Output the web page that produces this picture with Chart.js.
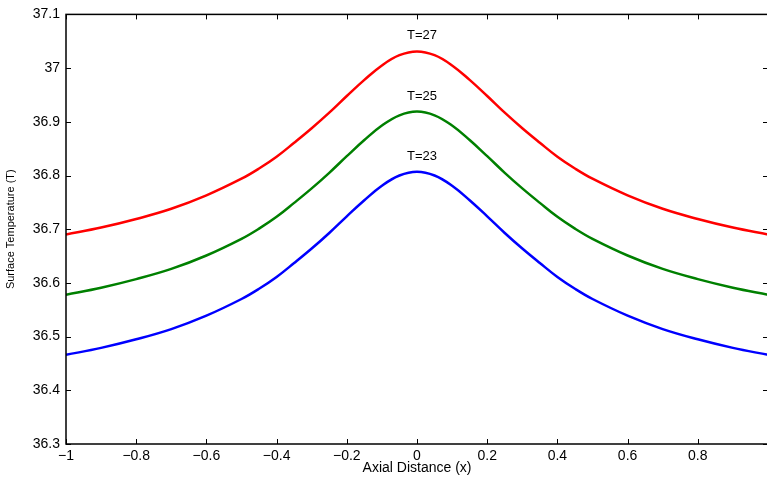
<!DOCTYPE html>
<html>
<head>
<meta charset="UTF-8">
<title>Surface Temperature</title>
<script src="https://cdn.jsdelivr.net/npm/chart.js"></script>
<style>
  html, body { margin: 0; padding: 0; overflow: hidden; background: #fff; }
  #wrap { width: 768px; height: 479px; }
</style>
</head>
<body>
<div id="wrap"><canvas id="tempChart"></canvas></div>
<script>
// values
const xValues = [-1, -0.9, -0.8, -0.7, -0.6, -0.5, -0.45, -0.4, -0.35, -0.3, -0.25, -0.2, -0.15, -0.1, -0.05, 0,
                 0.05, 0.1, 0.15, 0.2, 0.25, 0.3, 0.35, 0.4, 0.45, 0.5, 0.6, 0.7, 0.8, 0.9, 1];
const tempT23 = [36.466, 36.479, 36.495, 36.514, 36.539, 36.570, 36.589, 36.611, 36.637, 36.664, 36.693, 36.724, 36.754, 36.781, 36.800, 36.807,
                 36.800, 36.781, 36.754, 36.724, 36.693, 36.664, 36.637, 36.611, 36.589, 36.570, 36.539, 36.514, 36.495, 36.479, 36.466];
const tempT25 = [36.578, 36.591, 36.607, 36.626, 36.651, 36.682, 36.701, 36.723, 36.749, 36.776, 36.805, 36.836, 36.866, 36.893, 36.912, 36.919,
                 36.912, 36.893, 36.866, 36.836, 36.805, 36.776, 36.749, 36.723, 36.701, 36.682, 36.651, 36.626, 36.607, 36.591, 36.578];
const tempT27 = [36.690, 36.703, 36.719, 36.738, 36.763, 36.794, 36.813, 36.835, 36.861, 36.888, 36.917, 36.948, 36.978, 37.005, 37.024, 37.031,
                 37.024, 37.005, 36.978, 36.948, 36.917, 36.888, 36.861, 36.835, 36.813, 36.794, 36.763, 36.738, 36.719, 36.703, 36.690];
const seriesLabels = ['T=23', 'T=25', 'T=27'];
const seriesColors = ['#0000ff', '#008000', '#ff0000'];
const xTicks = [-1, -0.8, -0.6, -0.4, -0.2, 0, 0.2, 0.4, 0.6, 0.8, 1];
const yTicks = [36.3, 36.4, 36.5, 36.6, 36.7, 36.8, 36.9, 37, 37.1];

const fmt = v => String(parseFloat(v.toFixed(2))).replace('-', '\u2212');

function toPoints(ys) {
    return xValues.map((x, i) => ({ x: x, y: ys[i] }));
}

// box round the plot with inward ticks on all four sides, plus the T= labels
const framePlugin = {
    id: 'frame',
    afterDraw(chart) {
        const ctx = chart.ctx;
        const a = chart.chartArea;
        const xs = chart.scales.x, ys = chart.scales.y;
        ctx.save();
        ctx.strokeStyle = '#000';
        ctx.lineWidth = 1.5;
        ctx.strokeRect(a.left, a.top, a.right - a.left, a.bottom - a.top);
        ctx.lineWidth = 1;
        ctx.beginPath();
        xTicks.forEach(t => {
            const px = Math.round(xs.getPixelForValue(t)) + 0.5;
            ctx.moveTo(px, a.bottom); ctx.lineTo(px, a.bottom - 5);
            ctx.moveTo(px, a.top); ctx.lineTo(px, a.top + 5);
        });
        yTicks.forEach(t => {
            const py = Math.round(ys.getPixelForValue(t)) + 0.5;
            ctx.moveTo(a.left, py); ctx.lineTo(a.left + 5, py);
            ctx.moveTo(a.right, py); ctx.lineTo(a.right - 5, py);
        });
        ctx.stroke();

        ctx.fillStyle = '#000';
        ctx.font = '13px "Liberation Sans", Arial, sans-serif';
        ctx.textAlign = 'center';
        ctx.textBaseline = 'middle';
        chart.data.datasets.forEach(ds => {
            const peak = ds.data.reduce((m, p) => p.y > m.y ? p : m, ds.data[0]);
            ctx.fillText(ds.label, xs.getPixelForValue(peak.x) + 5, ys.getPixelForValue(peak.y + 0.029));
        });
        ctx.restore();
    }
};

const tickFont = { family: '"Liberation Sans", Arial, sans-serif', size: 14 };

new Chart(document.getElementById('tempChart'), {
    type: 'line',
    data: {
        datasets: [tempT23, tempT25, tempT27].map((ys, i) => ({
            label: seriesLabels[i],
            data: toPoints(ys),
            borderColor: seriesColors[i],
            borderWidth: 2.5,
            pointRadius: 0,
            fill: false,
            tension: 0.4
        }))
    },
    options: {
        responsive: true,
        maintainAspectRatio: false,
        animation: false,
        layout: { padding: { top: 12, right: 0, left: 0, bottom: 0 } },
        plugins: {
            legend: { display: false },
            tooltip: { enabled: false }
        },
        scales: {
            x: {
                type: 'linear',
                min: -1,
                max: 1,
                grid: { display: false, drawTicks: false },
                border: { display: false },
                afterBuildTicks: s => { s.ticks = xTicks.map(v => ({ value: v })); },
                afterFit: s => { s.height = 35; s.paddingRight = 0; },
                ticks: {
                    padding: 4,
                    color: '#000',
                    font: tickFont,
                    maxRotation: 0,
                    autoSkip: false,
                    // the last label sits past the right edge of the window
                    callback: v => (v === 1 ? '' : fmt(v))
                },
                title: {
                    display: true,
                    text: 'Axial Distance (x)',
                    color: '#000',
                    font: { family: '"Liberation Sans", Arial, sans-serif', size: 14 },
                    padding: { top: 0, bottom: 2 }
                }
            },
            y: {
                min: 36.3,
                max: 37.1,
                grid: { display: false, drawTicks: false },
                border: { display: false },
                afterBuildTicks: s => { s.ticks = yTicks.map(v => ({ value: v })); },
                afterFit: s => { s.width = 66; },
                ticks: {
                    padding: 6,
                    color: '#000',
                    font: tickFont,
                    autoSkip: false,
                    callback: v => fmt(v)
                },
                title: {
                    display: true,
                    text: 'Surface Temperature (T)',
                    color: '#000',
                    font: { family: '"Liberation Sans", Arial, sans-serif', size: 11 },
                    padding: { top: 4, bottom: 0 }
                }
            }
        }
    },
    plugins: [framePlugin]
});
</script>
</body>
</html>
